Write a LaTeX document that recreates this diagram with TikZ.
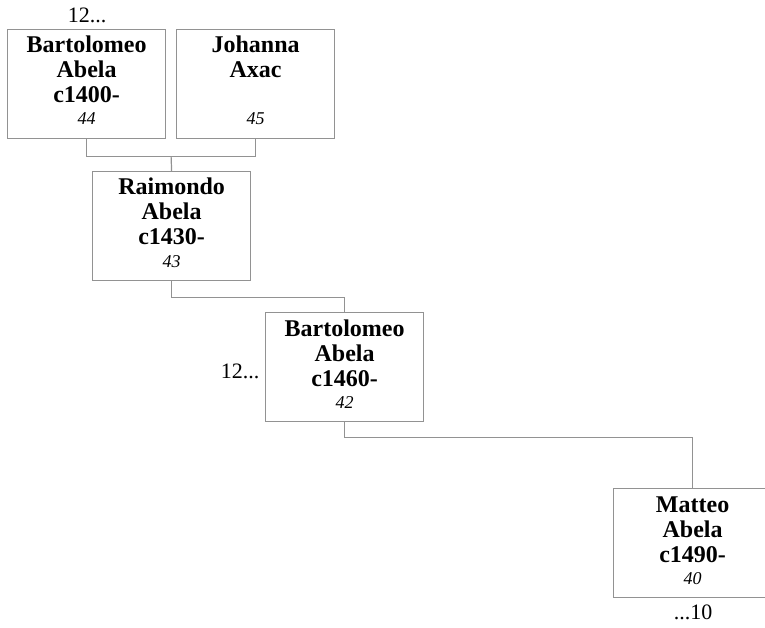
\documentclass[tikz,border=0pt]{standalone}
\usepackage{fontspec}
\setmainfont{Liberation Serif}
\usetikzlibrary{calc}
\definecolor{linegray}{HTML}{929292}
\newcommand\personbox[7]{%
  \node[box] (#1) at (#2,#3) {};
  \node[nm] (#1-a) at ($(#1.north)+(0,24)$) {#4};
  \node[nm] (#1-b) at ($(#1.north)+(0,49)$) {#5};
  \node[nm] (#1-c) at ($(#1.north)+(0,74)$) {#6};
  \node[num] (#1-d) at ($(#1.north)+(0,96)$) {#7};
}
\begin{document}
\begin{tikzpicture}[x=1pt,y=-1pt,
  box/.style={draw=linegray, line width=1.2pt, minimum width=158pt, minimum height=109pt, anchor=north west, inner sep=0pt},
  conn/.style={draw=linegray, line width=1.2pt},
  nm/.style={font=\fontsize{24}{24}\selectfont\bfseries, anchor=base, inner sep=0pt},
  num/.style={font=\fontsize{18}{18}\selectfont\itshape, anchor=base, inner sep=0pt},
  note/.style={font=\fontsize{22}{22}\selectfont, anchor=base, inner sep=0pt}]
\useasboundingbox (0,0) rectangle (765,628);
\clip (0,0) rectangle (765,628);
\personbox{b1}{7}{29}{Bartolomeo}{Abela}{c1400-}{44}
\personbox{b2}{176}{29}{Johanna}{Axac}{}{45}
\personbox{b3}{92}{171}{Raimondo}{Abela}{c1430-}{43}
\personbox{b4}{265}{312}{Bartolomeo}{Abela}{c1460-}{42}
\personbox{b5}{613}{488}{Matteo}{Abela}{c1490-}{40}
% notes
\node[note] (n1) at (87,23) {12...};
\node[note] (n2) at (240,378) {12...};
\node[note] (n3) at (693,619) {...10};
% connectors
\coordinate (j1) at ($(b1.south)+(0,17)$);
\coordinate (f1) at ($(b1.south)!0.5!(b2.south)+(0,17)$);
\draw[conn] (b1.south) -- (j1) -| (b2.south);
\draw[conn] (f1) -- (b3.north);
\coordinate (j2) at ($(b3.south)+(0,16)$);
\draw[conn] (b3.south) -- (j2) -| (b4.north);
\coordinate (j3) at ($(b4.south)+(0,15)$);
\draw[conn] (b4.south) -- (j3) -| (b5.north);
\end{tikzpicture}
\end{document}
